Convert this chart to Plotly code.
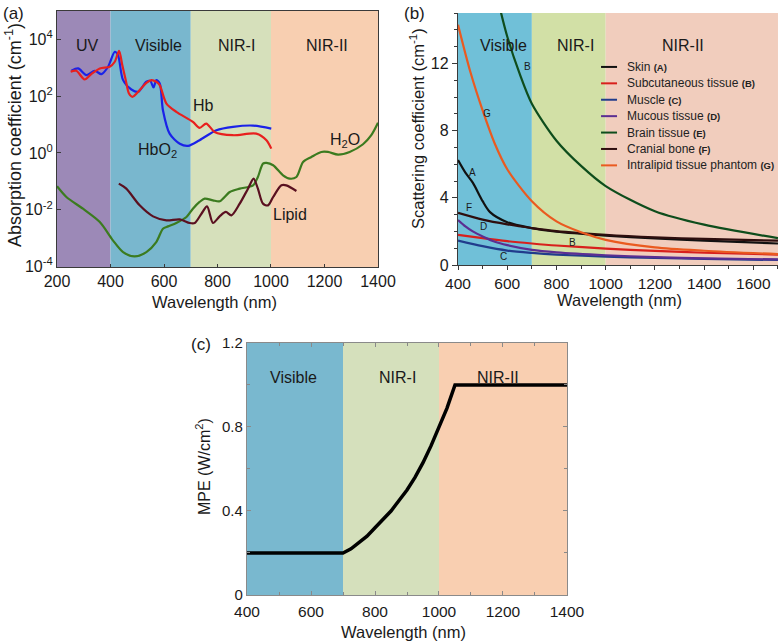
import math
import plotly.graph_objects as go

FONT = "Liberation Sans, Arial, Helvetica, sans-serif"
TXT = "#1a1a1a"

# ---------------- Panel (a): absorption ----------------
band_edges_a = [200, 400, 700, 1000, 1400]
band_names_a = ["UV", "Visible", "NIR-I", "NIR-II"]
band_colors_a = ["#9c89b7", "#79b7ce", "#d6e0bb", "#f8cfb1"]
band_label_x_a = [315, 578, 872, 1210]

hb_wl = [251, 272, 303, 328, 360, 397, 416, 432, 444, 457, 469, 482, 509, 534, 553, 571, 584,
         609, 646, 708, 733, 758, 789, 858, 945, 983, 1001]
hb_abs = [722, 784, 387, 597, 947, 1085, 1629, 3981, 1242, 367, 124, 95, 163, 295, 367, 321, 244,
          55, 28, 12.4, 7.6, 10.8, 5.5, 4.2, 4.8, 2.8, 1.42]

hbo2_wl = [254, 279, 310, 341, 366, 391, 416, 428, 447, 478, 503, 534, 549, 561, 571, 584, 596,
           621, 659, 690, 733, 796, 858, 933, 1001]
hbo2_abs = [784, 947, 551, 784, 597, 1085, 3672, 2800, 367, 172, 142, 321, 338, 202, 367, 280, 32,
            4.8, 2.1, 1.77, 2.8, 6.3, 8.3, 9.2, 7.2]

h2o_wl = [200, 235, 297, 360, 409, 447, 490, 534, 571, 596, 615, 646, 684, 708, 733, 752, 783, 808,
          846, 883, 933, 951, 970, 983, 1008, 1045, 1070, 1095, 1120, 1151, 1188, 1213, 1251, 1294,
          1344, 1375, 1400]
h2o_abs = [0.0667, 0.028, 0.0108, 0.00367, 8.3e-4, 3.2e-4, 2.25e-4, 3.2e-4, 7.2e-4, 2.13e-3, 2.58e-3,
           3.4e-3, 5.5e-3, 0.0108, 0.0187, 0.0245, 0.0213, 0.0197, 0.042, 0.055, 0.0722, 0.142, 0.42,
           0.444, 0.367, 0.163, 0.124, 0.142, 0.48, 0.72, 1.08, 1.08, 0.87, 1.08, 2.02, 4.2, 11.5]

lipid_wl = [431, 459, 509, 559, 609, 659, 696, 715, 740, 761, 783, 808, 831, 852, 883, 914, 935,
            951, 970, 989, 1008, 1039, 1057, 1095]
lipid_abs = [0.0828, 0.055, 0.0142, 5.8e-3, 4.2e-3, 4.56e-3, 3.4e-3, 3.4e-3, 7.2e-3, 0.0131, 3.4e-3,
             5.8e-3, 8.3e-3, 6.3e-3, 0.0163, 0.055, 0.124, 0.055, 0.0163, 0.0142, 0.028, 0.0722,
             0.0722, 0.0456]

curve_labels_a = ["Hb", "HbO<sub>2</sub>", "H<sub>2</sub>O", "Lipid"]
curve_label_x_a = [746, 574, 1277, 1071]
curve_label_y_a = [48, 1.23, 2.75, 0.0069]

# ---------------- Panel (b): scattering ----------------
band_edges_b = [400, 700, 1000, 1700]
band_names_b = ["Visible", "NIR-I", "NIR-II"]
band_colors_b = ["#70c0d8", "#d2e0a6", "#f1cdbd"]
band_label_x_b = [584, 878, 1314]

tissue_names = ["Skin", "Subcutaneous tissue", "Muscle", "Mucous tissue", "Brain tissue",
                "Cranial bone", "Intralipid tissue phantom"]
tissue_tags = ["(A)", "(B)", "(C)", "(D)", "(E)", "(F)", "(G)"]
tissue_colors = ["#111111", "#d8201c", "#213c8c", "#5b2e92", "#0e4d1c", "#2e0e0e", "#ea5a20"]

skin_wl = [400, 430, 460, 500, 530, 600, 700, 800, 1000, 1200, 1400, 1700]
skin_mu = [6.25, 5.5, 4.9, 3.8, 3.15, 2.55, 2.2, 1.98, 1.75, 1.58, 1.45, 1.28]
subc_wl = [400, 500, 600, 700, 800, 1000, 1200, 1400, 1700]
subc_mu = [1.8, 1.6, 1.42, 1.28, 1.16, 0.98, 0.84, 0.73, 0.62]
musc_wl = [400, 500, 600, 700, 800, 1000, 1200, 1400, 1700]
musc_mu = [1.45, 1.12, 0.86, 0.72, 0.62, 0.5, 0.42, 0.36, 0.3]
mucous_wl = [400, 430, 460, 500, 550, 600, 700, 800, 1000, 1200, 1400, 1700]
mucous_mu = [2.68, 2.3, 2.0, 1.7, 1.38, 1.18, 0.9, 0.75, 0.58, 0.47, 0.4, 0.33]
brain_wl = [570, 600, 650, 700, 800, 900, 1000, 1200, 1400, 1700]
brain_mu = [15.3, 13.6, 11.4, 9.6, 7.4, 5.9, 4.7, 3.2, 2.4, 1.6]
bone_wl = [400, 500, 600, 700, 800, 1000, 1200, 1400, 1700]
bone_mu = [3.1, 2.7, 2.42, 2.2, 2.02, 1.8, 1.65, 1.55, 1.45]
lipo_wl = [400, 450, 500, 550, 600, 700, 800, 900, 1000, 1200, 1400, 1700]
lipo_mu = [14.3, 11.5, 9.2, 7.2, 5.7, 3.8, 2.6, 1.95, 1.5, 1.05, 0.85, 0.65]

letter_text_b = ["A", "F", "D", "C", "B", "G", "B"]
letter_x_b = [457, 445, 502, 585, 865, 518, 682]
letter_y_b = [5.5, 3.45, 2.27, 0.48, 1.32, 9.0, 11.8]

# ---------------- Panel (c): MPE ----------------
band_edges_c = [400, 700, 1000, 1400]
band_names_c = ["Visible", "NIR-I", "NIR-II"]
band_colors_c = ["#79b8cf", "#d5e0bc", "#f9cfb1"]
band_label_x_c = [544, 869, 1184]

mpe_wl = [400, 700, 725, 750, 775, 800, 825, 850, 875, 900, 925, 950, 975, 1000, 1025, 1050, 1400]
mpe_val = [0.2, 0.2, 0.22, 0.25, 0.28, 0.32, 0.36, 0.4, 0.45, 0.5, 0.56, 0.63, 0.71, 0.8, 0.89, 1.0, 1.0]

fig = go.Figure()

# traces (a)
for wl, val, col in [(h2o_wl, h2o_abs, "#3b7b1f"), (lipid_wl, lipid_abs, "#5a1020"),
                     (hbo2_wl, hbo2_abs, "#1a22e8"), (hb_wl, hb_abs, "#e8201e")]:
    fig.add_trace(go.Scatter(x=wl, y=val, mode="lines", xaxis="x", yaxis="y",
                             line=dict(color=col, width=2.2, shape="spline", smoothing=0.8),
                             showlegend=False, hoverinfo="skip"))

# traces (b)
tissue_data = [(skin_wl, skin_mu), (subc_wl, subc_mu), (musc_wl, musc_mu), (mucous_wl, mucous_mu),
               (brain_wl, brain_mu), (bone_wl, bone_mu), (lipo_wl, lipo_mu)]
for (wl, mu), col in zip(tissue_data, tissue_colors):
    fig.add_trace(go.Scatter(x=wl, y=mu, mode="lines", xaxis="x2", yaxis="y2",
                             line=dict(color=col, width=2.2, shape="spline", smoothing=0.8),
                             showlegend=False, hoverinfo="skip"))

# trace (c)
fig.add_trace(go.Scatter(x=mpe_wl, y=mpe_val, mode="lines", xaxis="x3", yaxis="y3",
                         line=dict(color="black", width=3.5), showlegend=False, hoverinfo="skip"))

shapes = []
annotations = []

def add_bands(edges, colors, names, label_x, xref, yref, label_y):
    for i, col in enumerate(colors):
        shapes.append(dict(type="rect", xref=xref, yref=yref + " domain", x0=edges[i], x1=edges[i + 1],
                           y0=0, y1=1, fillcolor=col, line=dict(width=0), layer="below"))
        annotations.append(dict(text=names[i], x=label_x[i], y=label_y, xref=xref, yref=yref + " domain",
                                showarrow=False, font=dict(size=16, color=TXT, family=FONT)))

add_bands(band_edges_a, band_colors_a, band_names_a, band_label_x_a, "x", "y", 0.906)
add_bands(band_edges_b, band_colors_b, band_names_b, band_label_x_b, "x2", "y2", 0.913)
add_bands(band_edges_c, band_colors_c, band_names_c, band_label_x_c, "x3", "y3", 0.905)

for t, x, y in zip(curve_labels_a, curve_label_x_a, curve_label_y_a):
    annotations.append(dict(text=t, x=x, y=math.log10(y), xref="x", yref="y", showarrow=False,
                            font=dict(size=16, color=TXT, family=FONT)))

for t, x, y in zip(letter_text_b, letter_x_b, letter_y_b):
    annotations.append(dict(text=t, x=x, y=y, xref="x2", yref="y2", showarrow=False,
                            font=dict(size=10, color=TXT, family=FONT)))

# manual legend in (b)
leg_x0, leg_x1, leg_tx, leg_y0, leg_dy = 0.447, 0.497, 0.522, 0.786, 0.0651
for i, (nm, tag, col) in enumerate(zip(tissue_names, tissue_tags, tissue_colors)):
    yy = leg_y0 - i * leg_dy
    shapes.append(dict(type="line", xref="x2 domain", yref="y2 domain", x0=leg_x0, x1=leg_x1,
                       y0=yy, y1=yy, line=dict(color=col, width=2)))
    annotations.append(dict(text=nm + " <b><span style='font-size:9.5px'>" + tag + "</span></b>",
                            x=leg_tx, y=yy, xref="x2 domain", yref="y2 domain", xanchor="left",
                            yanchor="middle", showarrow=False,
                            font=dict(size=12, color="#222222", family=FONT)))

# axis titles and panel labels (paper coords)
def pap(px, py):
    return px / 780.0, 1 - py / 644.0

def add_text(text, px, py, size, angle=0, xanchor="center"):
    x, y = pap(px, py)
    annotations.append(dict(text=text, x=x, y=y, xref="paper", yref="paper", showarrow=False,
                            textangle=angle, xanchor=xanchor, yanchor="middle",
                            font=dict(size=size, color=TXT, family=FONT)))

add_text("Absorption coefficient (cm<sup>-1</sup>)", 13, 135, 18, -90)
add_text("Wavelength (nm)", 214, 302, 16.5)
add_text("Scattering coefficient (cm<sup>-1</sup>)", 417, 129, 16.5, -90)
add_text("Wavelength (nm)", 619, 300, 16.5)
add_text("MPE (W/cm<sup>2</sup>)", 203, 467, 16, -90)
add_text("Wavelength (nm)", 403, 632, 16.5)
add_text("(a)", 1, 13, 17, xanchor="left")
add_text("(b)", 402, 13, 17, xanchor="left")
add_text("(c)", 189, 344, 17, xanchor="left")

ax_common = dict(showgrid=False, zeroline=False, showline=True, linecolor="#3a3a3a", linewidth=1.3,
                 tickcolor="#3a3a3a", automargin=False, tickfont=dict(size=16, color=TXT, family=FONT))
gray_ax = {**ax_common, "linecolor": "#8a8a8a", "tickcolor": "#8a8a8a",
           "tickfont": dict(size=15, color=TXT, family=FONT)}
b_ax = {**ax_common, "tickfont": dict(size=15.5, color=TXT, family=FONT)}

fig.update_layout(
    template="none",
    width=780, height=644, margin=dict(l=0, r=0, t=0, b=0, pad=0, autoexpand=False),
    paper_bgcolor="white", plot_bgcolor="white",
    shapes=shapes, annotations=annotations,
    xaxis=dict(domain=[0.0731, 0.4846], range=[200, 1400], tickvals=[200, 400, 600, 800, 1000, 1200, 1400],
               ticks="inside", ticklen=3, mirror=True, anchor="y", **ax_common),
    yaxis=dict(domain=[0.5854, 0.9829], type="log", range=[-4.02, 5.0],
               tickvals=[1e-4, 1e-2, 1, 1e2, 1e4],
               ticktext=["10<sup>-4</sup>", "10<sup>-2</sup>", "10<sup>0</sup>", "10<sup>2</sup>", "10<sup>4</sup>"],
               ticks="inside", ticklen=4, mirror=True, anchor="x", **ax_common),
    xaxis2=dict(domain=[0.5872, 0.9974], range=[400, 1700], tick0=400, dtick=200, ticks="outside", ticklen=4,
                minor=dict(dtick=100, ticks="outside", ticklen=3, tickcolor="#3a3a3a"), anchor="y2",
                **b_ax),
    yaxis2=dict(domain=[0.5885, 0.9798], range=[0, 15], tickvals=[0, 4, 8, 12], ticks="outside", ticklen=5,
                minor=dict(dtick=1, ticks="outside", ticklen=3, tickcolor="#3a3a3a"), anchor="x2",
                **ax_common),
    xaxis3=dict(domain=[0.3167, 0.7269], range=[400, 1400], tick0=400, dtick=200, ticks="inside", ticklen=4,
                minor=dict(dtick=100, ticks="inside", ticklen=3, tickcolor="#888888"), mirror="allticks",
                ticklabelstandoff=2, anchor="y3", **{**gray_ax, "tickfont": dict(size=15.5, color=TXT, family=FONT)}),
    yaxis3=dict(domain=[0.0761, 0.4674], range=[0, 1.2], tickvals=[0, 0.4, 0.8, 1.2],
                ticktext=["0", "0.4", "0.8", "1.2"], ticks="inside", ticklen=4,
                minor=dict(dtick=0.2, ticks="inside", ticklen=3, tickcolor="#888888"), mirror="allticks",
                anchor="x3", **gray_ax),
)

fig.write_html("out.html", config={"displayModeBar": False},
               post_script="document.body.style.margin='0';document.body.style.overflow='hidden';")
